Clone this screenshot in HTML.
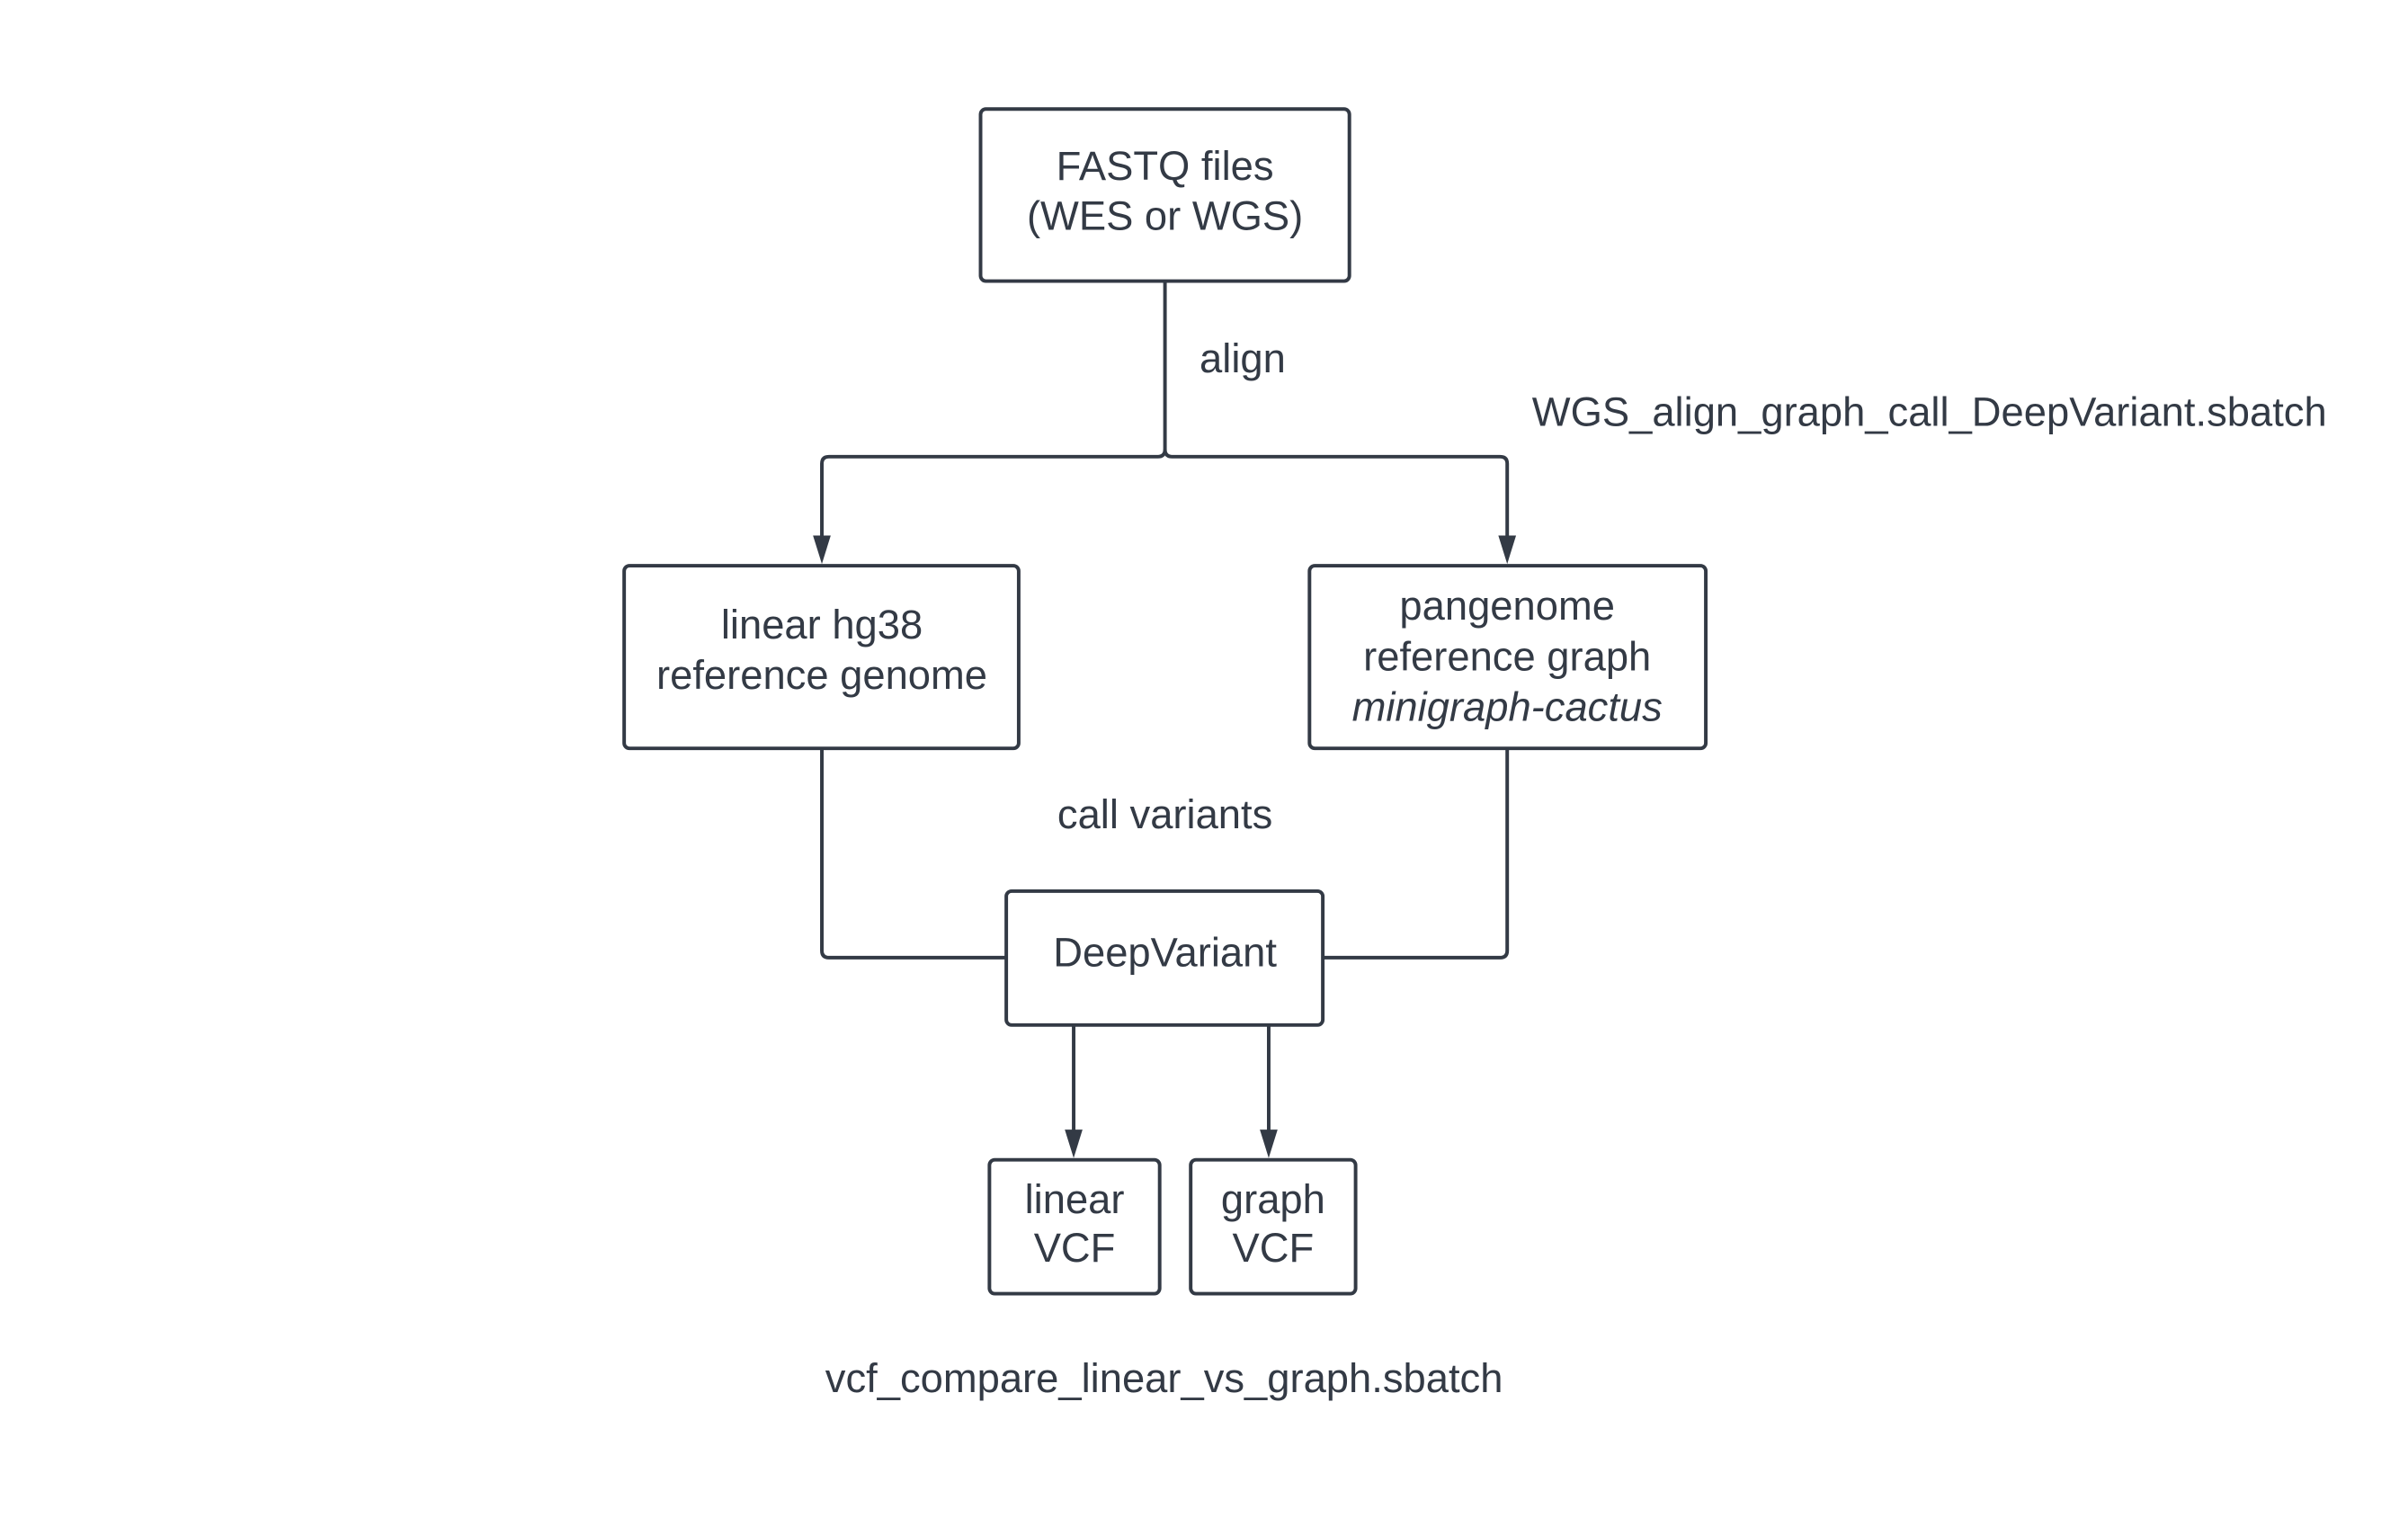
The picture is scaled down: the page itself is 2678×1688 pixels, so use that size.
<!DOCTYPE html>
<html><head><meta charset="utf-8"><style>
html,body{margin:0;padding:0;background:#fff;}
svg{display:block;}
text{font-family:"Liberation Sans",sans-serif;font-size:46px;fill:#333a45;}
</style></head><body>
<svg width="2678" height="1688" viewBox="0 0 2678 1688" xmlns="http://www.w3.org/2000/svg">
<g transform="scale(0.986)">
<g fill="none" stroke="#333a45" stroke-width="4">
<rect x="1106" y="123" width="416" height="194" rx="6"/>
<rect x="704" y="638" width="445" height="206" rx="6"/>
<rect x="1477" y="638" width="447" height="206" rx="6"/>
<rect x="1135" y="1005" width="357" height="151" rx="6"/>
<rect x="1116" y="1308" width="192" height="151" rx="6"/>
<rect x="1343" y="1308" width="186" height="151" rx="6"/>
<path d="M1314 317 V507 Q1314 515 1306 515 H935 Q927 515 927 523 V612"/>
<path d="M1314 507 Q1314 515 1322 515 H1692 Q1700 515 1700 523 V612"/>
<path d="M927 844 V1072 Q927 1080 935 1080 H1135"/>
<path d="M1700 844 V1072 Q1700 1080 1692 1080 H1492"/>
<path d="M1211 1156 V1282"/>
<path d="M1431 1156 V1282"/>
</g>
<g fill="#333a45">
<polygon points="917,604 937,604 927,636"/>
<polygon points="1690,604 1710,604 1700,636"/>
<polygon points="1201,1274 1221,1274 1211,1306"/>
<polygon points="1421,1274 1441,1274 1431,1306"/>
</g>
<g text-anchor="middle">
<text x="1314" y="203">FASTQ files</text>
<text x="1314" y="259">(WES or WGS)</text>
<text x="927" y="720">linear hg38</text>
<text x="927" y="777">reference genome</text>
<text x="1700" y="699">pangenome</text>
<text x="1700" y="756">reference graph</text>
<text x="1700" y="813" font-style="italic">minigraph-cactus</text>
<text x="1314" y="934">call variants</text>
<text x="1314" y="1090">DeepVariant</text>
<text x="1212" y="1368">linear</text>
<text x="1212" y="1423">VCF</text>
<text x="1436" y="1368">graph</text>
<text x="1436" y="1423">VCF</text>
<text x="1313" y="1570">vcf_compare_linear_vs_graph.sbatch</text>
</g>
<text x="1353" y="420">align</text>
<text x="1728" y="480">WGS_align_graph_call_DeepVariant.sbatch</text>
</g>
</svg>
</body></html>
